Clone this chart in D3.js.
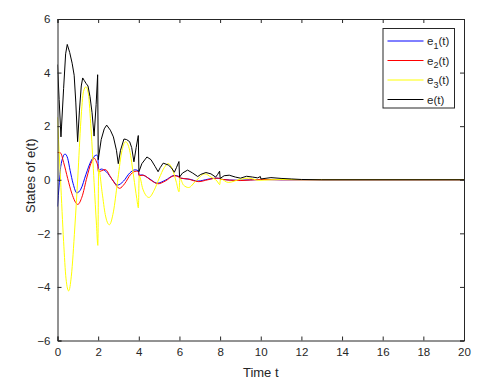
<!DOCTYPE html>
<html>
<head>
<meta charset="utf-8">
<script src="https://cdn.jsdelivr.net/npm/d3@7"></script>
<style>
  body { margin: 0; background: #fff; }
  svg text { font-family: "Liberation Sans", Arial, Helvetica, sans-serif; fill: #262626; }
</style>
</head>
<body>
<div id="chart"></div>
<script>
// x ticks / y ticks
var xTicks = [0, 2, 4, 6, 8, 10, 12, 14, 16, 18, 20];
var yTicks = [-6, -4, -2, 0, 2, 4, 6];

// e1(t) - blue
var e1T = [0, 0.08, 0.16, 0.37, 0.5, 0.62, 0.77, 0.95, 1.15, 1.4, 1.65, 1.92, 1.99, 2.01, 2.15, 2.4, 2.7, 2.95, 3.25, 3.55, 3.82, 3.99, 4.01, 4.15, 4.5, 4.9, 5.3, 5.75, 5.99, 6.01, 6.5, 6.9, 7.4, 7.8, 7.99, 8.01, 8.9, 10, 11, 20];
var e1V = [-1.0, -0.2, 0.5, 0.96, 0.8, 0.35, -0.15, -0.49, -0.35, 0.2, 0.7, 0.92, 0.86, 0.35, 0.4, 0.3, 0.0, -0.2, -0.05, 0.25, 0.37, 0.33, 0.17, 0.18, 0.05, -0.13, -0.02, 0.16, 0.12, 0.06, 0.02, -0.05, 0.02, 0.06, 0.05, 0.02, -0.02, 0.01, 0, 0];

// e2(t) - red
var e2T = [0, 0.15, 0.3, 0.5, 0.7, 1.0, 1.2, 1.45, 1.65, 1.81, 1.92, 1.99, 2.01, 2.35, 2.6, 2.8, 3.05, 3.3, 3.6, 3.88, 3.99, 4.01, 4.2, 4.6, 4.95, 5.3, 5.75, 5.99, 6.01, 6.4, 6.95, 7.4, 7.85, 7.99, 8.01, 9, 10, 11, 20];
var e2V = [1.02, 1.0, 0.65, 0.05, -0.5, -0.92, -0.65, 0.1, 0.62, 0.8, 0.66, 0.48, 0.3, 0.38, 0.12, -0.12, -0.32, -0.15, 0.2, 0.32, 0.28, 0.15, 0.17, -0.02, -0.15, -0.05, 0.15, 0.1, 0.07, 0.03, -0.07, 0.0, 0.06, 0.04, 0.02, -0.03, 0.01, 0, 0];

// e3(t) - yellow
var e3T = [0, 0.05, 0.15, 0.3, 0.42, 0.55, 0.68, 0.85, 1.0, 1.15, 1.28, 1.4, 1.52, 1.65, 1.8, 1.92, 1.985, 2.025, 2.2, 2.35, 2.55, 2.75, 2.95, 3.15, 3.35, 3.55, 3.75, 3.9, 3.98, 4.02, 4.2, 4.5, 4.75, 5.0, 5.25, 5.45, 5.65, 5.85, 5.98, 6.02, 6.2, 6.45, 6.8, 7.25, 7.55, 7.85, 7.98, 8.02, 8.4, 9, 9.4, 9.9, 10.5, 11, 12, 20];
var e3V = [2.33, 1.5, 0.0, -2.3, -3.7, -4.15, -3.6, -1.8, 0.1, 2.2, 3.3, 3.47, 3.2, 1.9, -0.1, -1.7, -2.45, 0.4, -0.5, -1.3, -1.68, -1.2, -0.1, 1.0, 1.42, 1.1, 0.1, -0.7, -1.05, 0.15, -0.35, -0.66, -0.4, 0.05, 0.45, 0.6, 0.4, -0.1, -0.45, 0.05, -0.2, -0.29, -0.05, 0.22, 0.1, -0.05, -0.18, 0.03, -0.1, 0.02, 0.06, -0.02, 0.0, 0.01, 0, 0];

// e(t) - black
var eT = [0, 0.08, 0.17, 0.3, 0.4, 0.48, 0.6, 0.72, 0.82, 0.9, 0.99, 1.08, 1.17, 1.24, 1.32, 1.4, 1.5, 1.6, 1.7, 1.8, 1.9, 1.975, 2.005, 2.15, 2.3, 2.42, 2.6, 2.75, 2.9, 2.99, 3.1, 3.27, 3.4, 3.55, 3.65, 3.76, 3.87, 3.975, 4.005, 4.15, 4.4, 4.6, 4.8, 4.95, 5.05, 5.2, 5.45, 5.6, 5.75, 5.85, 5.975, 6.005, 6.15, 6.4, 6.65, 6.9, 7.05, 7.3, 7.55, 7.78, 7.88, 7.975, 8.005, 8.2, 8.45, 8.75, 9.0, 9.3, 9.6, 9.85, 9.98, 10.01, 10.5, 11, 11.5, 12, 13, 20];
var eV = [4.3, 3.0, 1.6, 3.4, 4.7, 5.05, 4.75, 4.35, 3.9, 2.9, 1.42, 2.6, 3.5, 3.8, 3.7, 3.6, 3.5, 3.1, 2.5, 1.63, 2.8, 3.92, 0.75, 1.5, 1.9, 2.04, 1.85, 1.6, 1.1, 0.6, 1.1, 1.52, 1.5, 1.42, 1.2, 0.67, 1.2, 1.65, 0.3, 0.6, 0.85, 0.75, 0.5, 0.3, 0.45, 0.62, 0.55, 0.45, 0.28, 0.45, 0.68, 0.1, 0.25, 0.36, 0.25, 0.12, 0.2, 0.27, 0.22, 0.1, 0.2, 0.32, 0.05, 0.15, 0.17, 0.1, 0.06, 0.13, 0.1, 0.07, 0.12, 0.03, 0.08, 0.05, 0.03, 0.01, 0, 0];

var seriesNames = ["e1", "e2", "e3", "e"];
var seriesColors = ["#0000ff", "#ff0000", "#ffff00", "#000000"];

var W = 495, H = 383;
var margin = {top: 19, right: 31, bottom: 42.5, left: 57.5};
var width = W - margin.left - margin.right,
    height = H - margin.top - margin.bottom;

var svg = d3.select("#chart").append("svg")
    .attr("width", W)
    .attr("height", H);

var g = svg.append("g")
    .attr("transform", "translate(" + margin.left + "," + margin.top + ")");

var x = d3.scaleLinear().domain([0, 20]).range([0, width]);
var y = d3.scaleLinear().domain([-6, 6]).range([height, 0]);

g.append("clipPath").attr("id", "clip")
  .append("rect").attr("width", width).attr("height", height);

// lines
var pairs = [[e1T, e1V], [e2T, e2V], [e3T, e3V], [eT, eV]];
pairs.forEach(function(p, i) {
  var pts = p[0].map(function(t, k) { return [t, p[1][k]]; });
  var line = d3.line()
      .x(function(d) { return x(d[0]); })
      .y(function(d) { return y(d[1]); })
      .curve(i == 3 ? d3.curveLinear : d3.curveMonotoneX);
  g.append("path")
      .datum(pts)
      .attr("clip-path", "url(#clip)")
      .attr("fill", "none")
      .attr("stroke", seriesColors[i])
      .attr("stroke-width", 1)
      .attr("stroke-linejoin", "round")
      .attr("d", line);
});

// axes (ticks inward, MATLAB box)
var axColor = "#262626";
var xAxis = g.append("g")
    .attr("transform", "translate(0," + height + ")")
    .call(d3.axisBottom(x).tickValues(xTicks).tickSize(-4).tickPadding(7));
var yAxis = g.append("g")
    .call(d3.axisLeft(y).tickValues(yTicks).tickSize(-4).tickPadding(7));
var xTop = g.append("g")
    .call(d3.axisTop(x).tickValues(xTicks).tickSize(-4).tickFormat(""));
var yRight = g.append("g")
    .attr("transform", "translate(" + width + ",0)")
    .call(d3.axisRight(y).tickValues(yTicks).tickSize(-4).tickFormat(""));

[xAxis, yAxis, xTop, yRight].forEach(function(a) {
  a.selectAll("path").attr("stroke", axColor).attr("stroke-width", 1);
  a.selectAll("line").attr("stroke", axColor);
  a.selectAll("text").style("font-size", "11.5px")
    .style("font-family", '"Liberation Sans", Arial, sans-serif').attr("fill", axColor);
});

// axis labels
g.append("text")
    .attr("x", width / 2)
    .attr("y", height + 36)
    .attr("text-anchor", "middle")
    .style("font-size", "13px")
    .text("Time t");

g.append("text")
    .attr("transform", "rotate(-90)")
    .attr("x", -height / 2 + 4)
    .attr("y", -23)
    .attr("text-anchor", "middle")
    .style("font-size", "13px")
    .text("States of e(t)");

// legend
var leg = svg.append("g").attr("transform", "translate(383,28.5)");
leg.append("rect")
    .attr("width", 71.5).attr("height", 79.5)
    .attr("fill", "#fff").attr("stroke", axColor).attr("stroke-width", 1);

var subs = ["1", "2", "3", null];
seriesNames.forEach(function(n, i) {
  var ry = 12.5 + i * 19.5;
  leg.append("line")
      .attr("x1", 4.5).attr("x2", 40.5)
      .attr("y1", ry).attr("y2", ry)
      .attr("stroke", seriesColors[i]).attr("stroke-width", 1);
  var t = leg.append("text")
      .attr("x", 44).attr("y", ry + 4)
      .style("font-size", "11.5px");
  t.append("tspan").text("e");
  if (subs[i]) {
    t.append("tspan").attr("dy", 3.5).style("font-size", "9px").text(subs[i]);
    t.append("tspan").attr("dy", -3.5).text("(t)");
  } else {
    t.append("tspan").text("(t)");
  }
});
</script>
</body>
</html>
